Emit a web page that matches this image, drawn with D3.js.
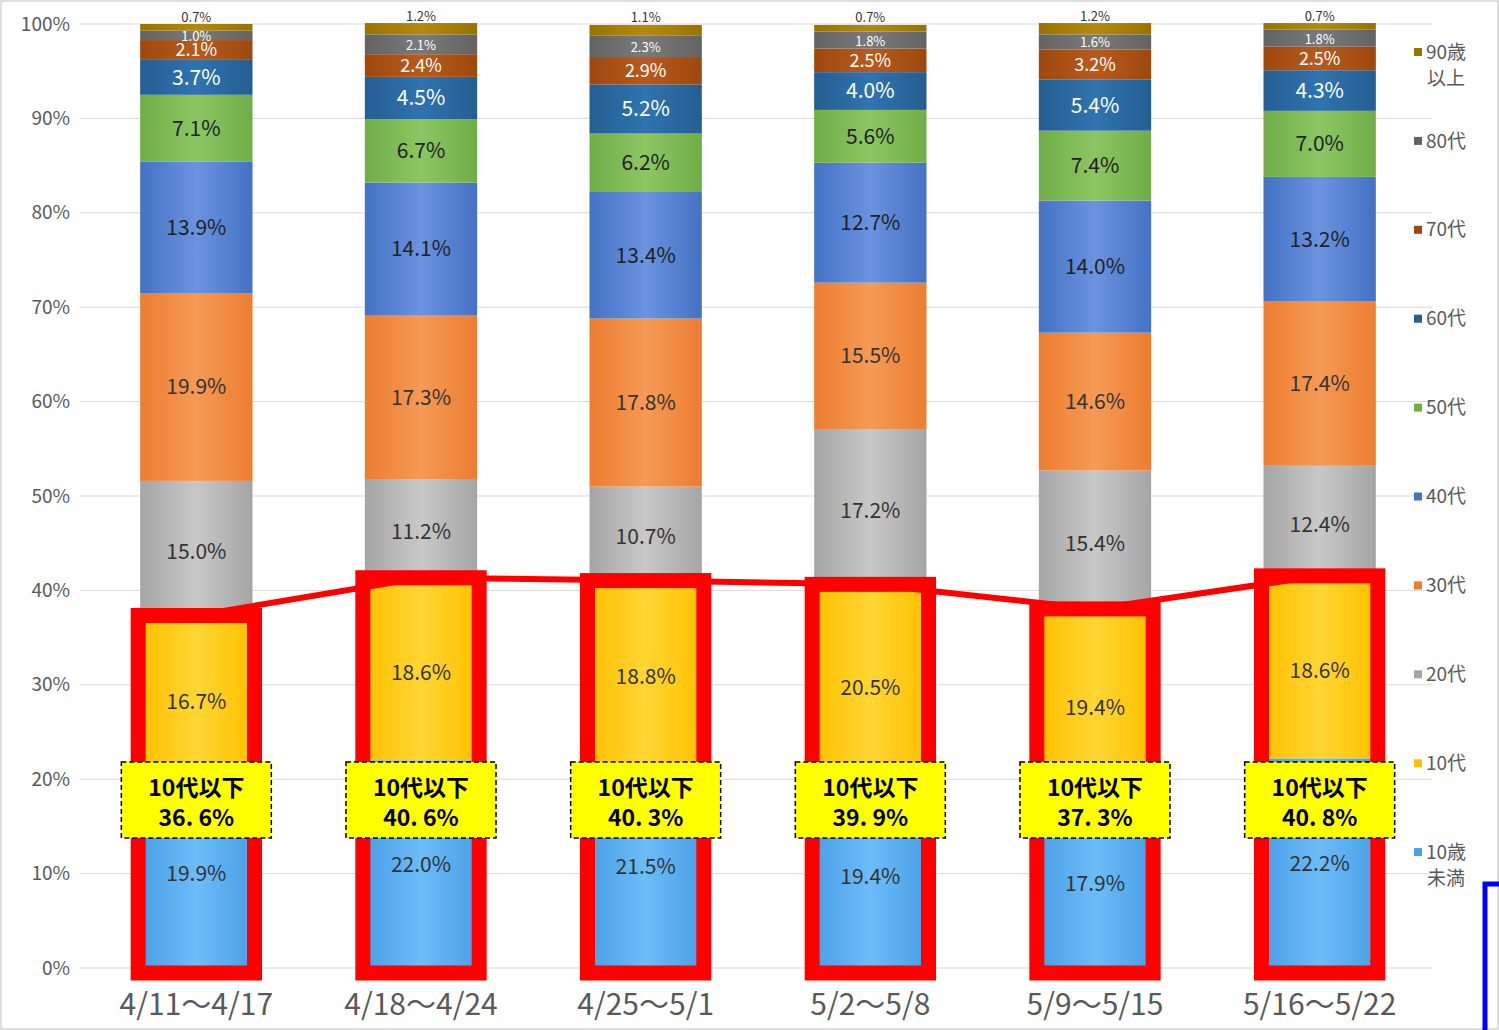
<!DOCTYPE html>
<html><head><meta charset="utf-8">
<script src="https://cdn.jsdelivr.net/npm/d3@7"></script>
<style>body{margin:0;background:#fff}svg{display:block}</style>
</head><body><svg id="svg"></svg>
<script>
const weeks = ["4/11～4/17","4/18～4/24","4/25～5/1","5/2～5/8","5/9～5/15","5/16～5/22"];
const groups = ["10歳未満","10代","20代","30代","40代","50代","60代","70代","80代","90歳以上"];
const under10 = [19.9,22.0,21.5,19.4,17.9,22.2];
const teens = [16.7,18.6,18.8,20.5,19.4,18.6];
const twenties = [15.0,11.2,10.7,17.2,15.4,12.4];
const thirties = [19.9,17.3,17.8,15.5,14.6,17.4];
const forties = [13.9,14.1,13.4,12.7,14.0,13.2];
const fifties = [7.1,6.7,6.2,5.6,7.4,7.0];
const sixties = [3.7,4.5,5.2,4.0,5.4,4.3];
const seventies = [2.1,2.4,2.9,2.5,3.2,2.5];
const eighties = [1.0,2.1,2.3,1.8,1.6,1.8];
const nineties = [0.7,1.2,1.1,0.7,1.2,0.7];
const teensAndUnder = ["36. 6%","40. 6%","40. 3%","39. 9%","37. 3%","40. 8%"];
const series = [under10,teens,twenties,thirties,forties,fifties,sixties,seventies,eighties,nineties];
const colors = ["#4a9fe6","#ffc000","#a5a5a5","#ed7d31","#4472c4","#70ad47","#255e91","#9e480e","#636363","#997300"];
const light = ["#6cbcf7","#ffd633","#c8c8c8","#f59a55","#6a93e0","#8cc663","#2f73b0","#b85a1c","#7a7a7a","#b38a10"];
const textCol = ["#333","#333","#333","#333","#222","#222","#fff","#fff","#fff","#333"];

const W = 1499, H = 1030;
const svg = d3.select('#svg').attr('width', W).attr('height', H)
  .attr('font-family', '"Noto Sans CJK JP", "Noto Sans", sans-serif');

const x = d3.scaleBand().domain(weeks).range([84, 1432]).paddingInner(0.5).paddingOuter(0.25);
const y = d3.scaleLinear().domain([0, 100]).range([968, 24]);

svg.append('rect').attr('x', 1).attr('y', 1).attr('width', W - 2).attr('height', H - 2)
  .attr('fill', 'none').attr('stroke', '#bfbfbf');

const defs = svg.append('defs');
colors.forEach((c, i) => {
  const g = defs.append('linearGradient').attr('id', 'g' + i);
  g.append('stop').attr('offset', '0%').attr('stop-color', c);
  g.append('stop').attr('offset', '50%').attr('stop-color', light[i]);
  g.append('stop').attr('offset', '100%').attr('stop-color', c);
});

// grid + axis
svg.append('g').selectAll('line').data(d3.range(0, 101, 10)).join('line')
  .attr('x1', 80).attr('x2', 1432).attr('y1', d => y(d)).attr('y2', d => y(d))
  .attr('stroke', '#d9d9d9');
svg.append('g').selectAll('text').data(d3.range(0, 101, 10)).join('text')
  .attr('x', 70).attr('y', d => y(d)).attr('dy', '0.35em').attr('text-anchor', 'end')
  .attr('font-size', 19).attr('fill', '#595959').text(d => d + '%');

const stacked = weeks.map((w, j) => {
  let acc = 0;
  return series.map((s, i) => { const y0 = acc; acc += s[j]; return {i, j, y0, y1: acc, v: s[j]}; });
});

const bw = x.bandwidth();
const bars = svg.append('g');
stacked.forEach(col => col.forEach(d => {
  bars.append('rect').attr('x', x(weeks[d.j])).attr('width', bw)
    .attr('y', y(d.y1)).attr('height', y(d.y0) - y(d.y1)).attr('fill', `url(#g${d.i})`);
}));

// red line under boxes
const boxTop = j => y(under10[j] + teens[j]) - 7;
svg.append('path')
  .attr('d', d3.line()(weeks.map((w, j) => [x(w) + bw / 2, boxTop(j)])))
  .attr('fill', 'none').attr('stroke', '#ff0000').attr('stroke-width', 6);
svg.append('g').selectAll('rect').data(weeks).join('rect')
  .attr('x', w => x(w) - 2).attr('width', bw + 4)
  .attr('y', (w, j) => boxTop(j)).attr('height', (w, j) => 973 - boxTop(j))
  .attr('fill', 'none').attr('stroke', '#ff0000').attr('stroke-width', 15);

// segment labels
const labels = svg.append('g').attr('text-anchor', 'middle');
stacked.forEach(col => col.forEach(d => {
  let ty = y((d.y0 + d.y1) / 2);
  if (d.i === 9) ty = y(d.y1) - 7;
  if (d.i === 8) ty += 1;
  labels.append('text').attr('x', x(weeks[d.j]) + bw / 2).attr('y', ty).attr('dy', '0.35em')
    .attr('font-size', d.i >= 8 ? 13 : (d.i === 7 ? 18 : 21))
    .attr('fill', textCol[d.i]).text(d.v.toFixed(1) + '%');
}));

// yellow callouts
const call = svg.append('g').selectAll('g').data(weeks).join('g')
  .attr('transform', w => `translate(${x(w) + bw / 2},800)`);
call.append('rect').attr('x', -75).attr('y', -38).attr('width', 150).attr('height', 76)
  .attr('fill', '#ffff00').attr('stroke', '#000').attr('stroke-dasharray', '5,3').attr('stroke-width', 1.5);
call.append('text').attr('text-anchor', 'middle').attr('y', -4).attr('font-size', 23)
  .attr('font-weight', 'bold').text('10代以下');
call.append('text').attr('text-anchor', 'middle').attr('y', 26).attr('font-size', 23)
  .attr('font-weight', 'bold').text((w, j) => teensAndUnder[j]);

// x axis labels
svg.append('g').selectAll('text').data(weeks).join('text')
  .attr('x', w => x(w) + bw / 2).attr('y', 1015).attr('text-anchor', 'middle')
  .attr('font-size', 30).attr('fill', '#595959').text(d => d);

// legend (top = 90歳以上)
const leg = svg.append('g').selectAll('g').data(groups.slice().reverse()).join('g')
  .attr('transform', (d, k) => `translate(1414,${52 + k * 88.9})`);
leg.append('rect').attr('y', -4).attr('width', 8).attr('height', 8)
  .attr('fill', (d, k) => colors[9 - k]);
leg.each(function(d) {
  const g = d3.select(this);
  const lines = d === '90歳以上' ? ['90歳', '以上'] : d === '10歳未満' ? ['10歳', '未満'] : [d];
  lines.forEach((t, n) => g.append('text').attr('x', n ? 13 : 12).attr('y', n * 26).attr('dy', '0.35em')
    .attr('font-size', 19).attr('fill', '#595959').text(t));
});

// blue bracket
svg.append('path').attr('d', 'M1499,884H1485V1030').attr('fill', 'none')
  .attr('stroke', '#0000ff').attr('stroke-width', 5);
</script></body></html>
